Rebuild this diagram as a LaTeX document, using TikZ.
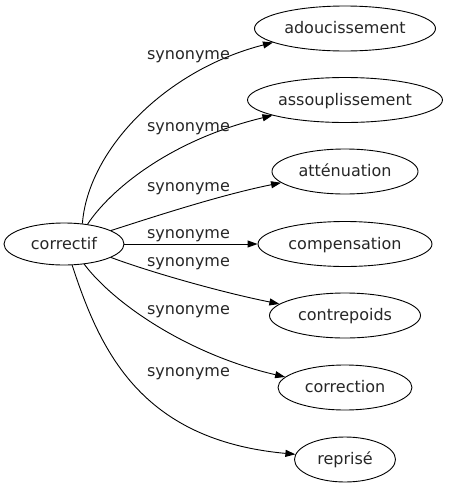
\documentclass[tikz,border=0pt]{standalone}
\usepackage{fontspec}
\setmainfont{DejaVu Sans}
\usetikzlibrary{shapes.geometric,arrows.meta}
\begin{document}
\begin{tikzpicture}[x=1pt,y=-1pt,
  every node/.style={font=\fontsize{16}{19}\selectfont, text=black!85},
  term/.style={draw, ellipse, line width=0.9pt, inner sep=0pt, minimum height=45pt, text height=12pt, text depth=2pt},
  rel/.style={inner sep=0pt, text height=12pt, text depth=2pt},
  link/.style={draw, line width=0.9pt, -{Triangle[length=10pt,width=7pt]}}]
\useasboundingbox (0,0) rectangle (449,491);
\node[term, minimum width=120pt, minimum height=42pt] (c) at (64,244) {correctif};
\node[term, minimum width=181pt] (n1) at (345,28.5) {adoucissement};
\node[term, minimum width=195pt] (n2) at (345,100) {assouplissement};
\node[term, minimum width=146pt] (n3) at (345,171.5) {atténuation};
\node[term, minimum width=174pt] (n4) at (345,244) {compensation};
\node[term, minimum width=151pt] (n5) at (345,315.5) {contrepoids};
\node[term, minimum width=134pt] (n6) at (345,387.5) {correction};
\node[term, minimum width=101pt] (n7) at (345,459.5) {reprisé};
\draw[link] (c.48) .. controls (88,150) and (165,70) .. (n1.191);
\draw[link] (c.40) .. controls (110,190) and (170,140) .. (n2.192);
\draw[link] (c.16) .. controls (150,218) and (220,195) .. (n3.190);
\draw[link] (c.east) -- (n4.west);
\draw[link] (c.-16) .. controls (150,272) and (220,292) .. (n5.170);
\draw[link] (c.-45) .. controls (115,305) and (190,355) .. (n6.170);
\draw[link] (c.-69) .. controls (100,350) and (140,440) .. (n7.174);
\node[rel] (l1) at (188.5,54.5) {synonyme};
\node[rel] (l2) at (188.5,126.5) {synonyme};
\node[rel] (l3) at (188.5,186.5) {synonyme};
\node[rel] (l4) at (188.5,233.5) {synonyme};
\node[rel] (l5) at (188.5,261.5) {synonyme};
\node[rel] (l6) at (188.5,309.5) {synonyme};
\node[rel] (l7) at (188.5,371.5) {synonyme};
\end{tikzpicture}
\end{document}
